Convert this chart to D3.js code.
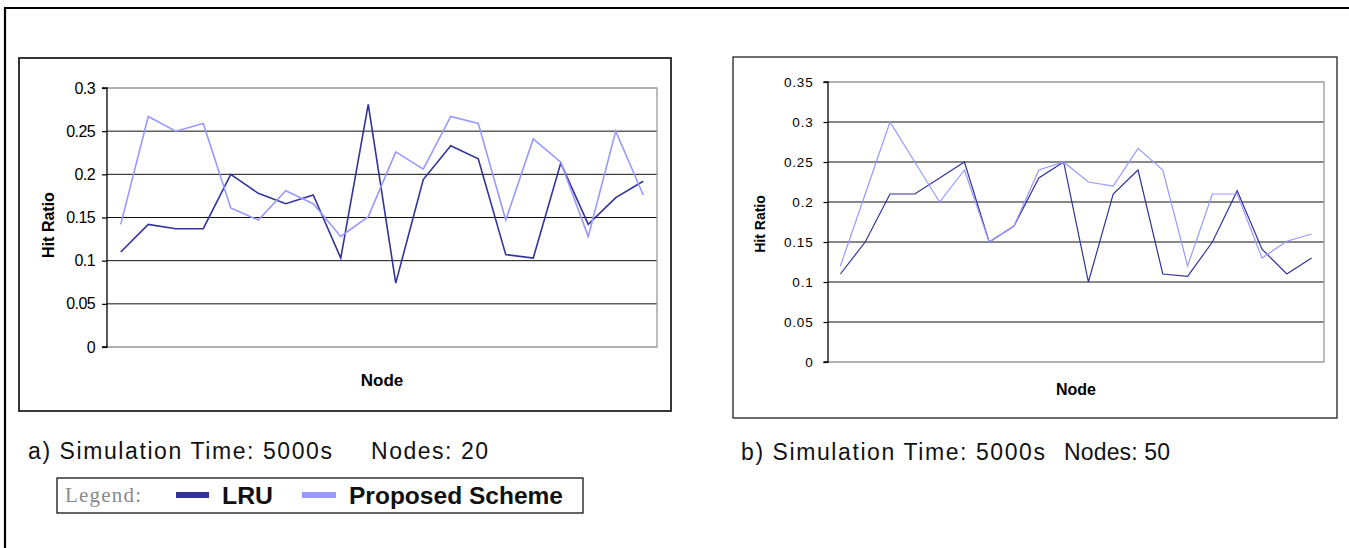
<!DOCTYPE html>
<html>
<head>
<meta charset="utf-8">
<script src="https://cdn.jsdelivr.net/npm/d3@7"></script>
<style>
  html, body { margin: 0; padding: 0; background: #fff; }
  svg { display: block; }
</style>
</head>
<body>
<div id="chart"></div>
<script>
//-----------------------------DATA-----------------------------//
const nodesA = [1, 2, 3, 4, 5, 6, 7, 8, 9, 10, 11, 12, 13, 14, 15, 16, 17, 18, 19, 20];
const lruA = [0.110, 0.142, 0.137, 0.137, 0.200, 0.178, 0.166, 0.176, 0.103, 0.281,
              0.074, 0.194, 0.233, 0.218, 0.107, 0.103, 0.213, 0.142, 0.173, 0.192];
const propA = [0.142, 0.267, 0.250, 0.259, 0.161, 0.147, 0.181, 0.166, 0.128, 0.151,
               0.226, 0.206, 0.267, 0.259, 0.147, 0.241, 0.214, 0.128, 0.250, 0.176];
const ticksA = [0, 0.05, 0.1, 0.15, 0.2, 0.25, 0.3];

const nodesB = [1, 2, 3, 4, 5, 6, 7, 8, 9, 10, 11, 12, 13, 14, 15, 16, 17, 18, 19, 20];
const lruB = [0.11, 0.15, 0.21, 0.21, 0.23, 0.25, 0.15, 0.17, 0.23, 0.25,
              0.10, 0.21, 0.24, 0.11, 0.107, 0.15, 0.214, 0.141, 0.11, 0.13];
const propB = [0.12, 0.21, 0.30, 0.25, 0.20, 0.24, 0.15, 0.17, 0.24, 0.25,
               0.225, 0.22, 0.267, 0.24, 0.12, 0.21, 0.21, 0.13, 0.151, 0.16];
const ticksB = [0, 0.05, 0.1, 0.15, 0.2, 0.25, 0.3, 0.35];

const seriesNames = ["LRU", "Proposed Scheme"];
const seriesColors = ["#333399", "#9999ff"];

//-----------------------------SVG------------------------------//
const W = 1349, H = 548;
const svg = d3.select("#chart").append("svg")
  .attr("width", W).attr("height", H);

// outer frame (only top + left visible in the crop)
svg.append("path")
  .attr("d", "M5,548 L5,8 L1349,8")
  .attr("fill", "none").attr("stroke", "#000").attr("stroke-width", 2.2);

const fmt = (d) => String(+d.toFixed(2));

function drawChart(o) {
  // chart frame
  svg.append("rect")
    .attr("x", o.box[0]).attr("y", o.box[1])
    .attr("width", o.box[2] - o.box[0]).attr("height", o.box[3] - o.box[1])
    .attr("fill", "#fff").attr("stroke", "#222").attr("stroke-width", o.boxStroke);

  const g = svg.append("g").attr("transform", `translate(${o.plot[0]},${o.plot[1]})`);
  const pw = o.plot[2] - o.plot[0], ph = o.plot[3] - o.plot[1];

  //----------------------------SCALES----------------------------//
  const x = d3.scalePoint().domain(o.nodes).range([0, pw]).padding(0.5);
  const y = d3.scaleLinear().domain([0, d3.max(o.ticks)]).range([ph, 0]);

  // gridlines
  g.append("g").selectAll("line")
    .data(o.ticks.filter((t) => t > 0 && t < d3.max(o.ticks)))
    .join("line")
    .attr("x1", 0).attr("x2", pw)
    .attr("y1", (d) => y(d)).attr("y2", (d) => y(d))
    .attr("stroke", "#111").attr("stroke-width", 1);

  // plot border (top / right / bottom grey)
  g.append("path")
    .attr("d", `M0,0 H${pw} V${ph} H0`)
    .attr("fill", "none").attr("stroke", "#999").attr("stroke-width", 1.3);

  //-----------------------------AXES-----------------------------//
  const yAxis = d3.axisLeft(y).tickValues(o.ticks).tickFormat(fmt)
    .tickSize(o.tickLen).tickPadding(o.tickPad);
  const ay = g.append("g").call(yAxis);
  ay.select(".domain").attr("stroke", "#000").attr("stroke-width", 1.3)
    .attr("d", `M-${o.tickLen},${ph}H0V0H-${o.tickLen}`);
  ay.selectAll(".tick line").attr("stroke", "#000").attr("stroke-width", 1.2);
  ay.selectAll(".tick text")
    .attr("fill", "#000")
    .style("font-family", "'Liberation Sans', Arial, sans-serif")
    .style("font-size", o.tickFont + "px")
    .style("letter-spacing", o.tickSpacing + "px");

  //----------------------------LINES-----------------------------//
  const line = d3.line().x((d, i) => x(o.nodes[i])).y((d) => y(d));
  [o.lru, o.prop].forEach((vals, k) => {
    g.append("path")
      .attr("d", line(vals))
      .attr("fill", "none")
      .attr("stroke", seriesColors[k])
      .attr("stroke-width", o.lineW)
      .attr("stroke-linejoin", "miter");
  });

  // axis titles
  svg.append("text")
    .attr("transform", `translate(${o.yTitle[0]},${o.yTitle[1]}) rotate(-90)`)
    .attr("text-anchor", "middle")
    .style("font-family", "'Liberation Sans', Arial, sans-serif")
    .style("font-weight", "bold")
    .style("font-size", o.titleFont + "px")
    .text("Hit Ratio");

  svg.append("text")
    .attr("x", o.plot[0] + pw / 2).attr("y", o.xTitleY)
    .attr("text-anchor", "middle")
    .style("font-family", "'Liberation Sans', Arial, sans-serif")
    .style("font-weight", "bold")
    .style("font-size", o.nodeFont + "px")
    .text("Node");

  // caption under the chart
  o.caption.forEach((c) => {
    svg.append("text")
      .attr("x", c.x).attr("y", o.captionY)
      .attr("textLength", c.len).attr("lengthAdjust", "spacing")
      .style("font-family", "'Liberation Sans', Arial, sans-serif")
      .style("font-size", "23px")
      .attr("fill", "#111")
      .text(c.t);
  });
}

drawChart({
  nodes: nodesA, lru: lruA, prop: propA, ticks: ticksA,
  box: [19, 58, 671, 411], boxStroke: 1.8,
  plot: [107, 88, 657, 347],
  tickLen: 5, tickPad: 7, tickFont: 16, tickSpacing: -0.6,
  lineW: 1.6, titleFont: 16, nodeFont: 17,
  yTitle: [54, 225], xTitleY: 386,
  captionY: 459,
  caption: [{ x: 28, t: "a) Simulation Time: 5000s", len: 304 },
            { x: 371, t: "Nodes: 20", len: 117 }]
});

drawChart({
  nodes: nodesB, lru: lruB, prop: propB, ticks: ticksB,
  box: [733, 57, 1337, 418], boxStroke: 1.3,
  plot: [828, 82, 1324, 362],
  tickLen: 4.5, tickPad: 10, tickFont: 13.5, tickSpacing: 0.8,
  lineW: 1.2, titleFont: 14, nodeFont: 16,
  yTitle: [765, 224], xTitleY: 395,
  captionY: 460,
  caption: [{ x: 741, t: "b) Simulation Time: 5000s", len: 304 },
            { x: 1064, t: "Nodes: 50", len: 106 }]
});

//----------------------------LEGEND----------------------------//
const leg = svg.append("g");
leg.append("rect")
  .attr("x", 57).attr("y", 478).attr("width", 526).attr("height", 35)
  .attr("fill", "#fff").attr("stroke", "#000").attr("stroke-width", 1.2);
leg.append("text")
  .attr("x", 65).attr("y", 502)
  .style("font-family", "'Liberation Serif', 'Times New Roman', serif")
  .style("font-size", "21px")
  .style("letter-spacing", "1.2px")
  .attr("fill", "#8a8a8a")
  .text("Legend:");

const legItems = [
  { sx: 176, sw: 33, tx: 222, len: 51 },
  { sx: 302, sw: 34, tx: 349, len: 214 }
];
legItems.forEach((p, i) => {
  leg.append("rect")
    .attr("x", p.sx).attr("y", 492).attr("width", p.sw).attr("height", 6)
    .attr("fill", seriesColors[i]);
  leg.append("text")
    .attr("x", p.tx).attr("y", 504)
    .attr("textLength", p.len).attr("lengthAdjust", "spacingAndGlyphs")
    .style("font-family", "'Liberation Sans', Arial, sans-serif")
    .style("font-weight", "bold")
    .style("font-size", "23px")
    .attr("fill", "#111")
    .text(seriesNames[i]);
});
</script>
</body>
</html>
